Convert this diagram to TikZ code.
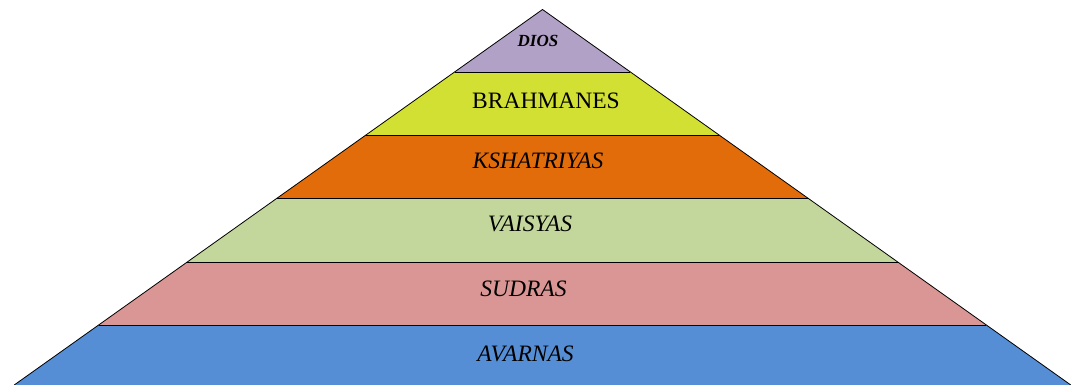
\documentclass[tikz,border=0pt]{standalone}
\usepackage{fontspec}
\setmainfont{Liberation Serif}
\definecolor{cDios}{HTML}{B2A1C7}
\definecolor{cBrah}{HTML}{D2E034}
\definecolor{cKsha}{HTML}{E36C0A}
\definecolor{cVais}{HTML}{C3D69B}
\definecolor{cSudr}{HTML}{D99694}
\definecolor{cAvar}{HTML}{558ED5}
\begin{document}
\begin{tikzpicture}[x=1pt,y=-1pt,
  layer/.style={draw=black,line width=0.8pt,line join=miter},
  lbl/.style={anchor=base,inner sep=0pt,font=\fontsize{23.5}{26}\selectfont\itshape},
  lblup/.style={anchor=base,inner sep=0pt,font=\fontsize{23.5}{26}\selectfont},
  lbltop/.style={anchor=base,inner sep=0pt,font=\fontsize{17}{19}\selectfont\bfseries\itshape}]
\useasboundingbox (0,0) rectangle (1071,385);
\coordinate (apex) at (542.5,9.5);
\coordinate (l1) at (454.6,72);   \coordinate (r1) at (630.4,72);
\coordinate (l2) at (365.9,135);  \coordinate (r2) at (719.1,135);
\coordinate (l3) at (276.6,198.5);\coordinate (r3) at (808.4,198.5);
\coordinate (l4) at (187.2,262);  \coordinate (r4) at (897.8,262);
\coordinate (l5) at (98.6,325);   \coordinate (r5) at (986.4,325);
\coordinate (l6) at (14.2,385);   \coordinate (r6) at (1070.8,385);
\fill[cAvar] (l5) -- (r5) -- (r6) -- (l6) -- cycle;
\fill[cSudr] (l4) -- (r4) -- (r5) -- (l5) -- cycle;
\fill[cVais] (l3) -- (r3) -- (r4) -- (l4) -- cycle;
\fill[cKsha] (l2) -- (r2) -- (r3) -- (l3) -- cycle;
\fill[cBrah] (l1) -- (r1) -- (r2) -- (l2) -- cycle;
\fill[cDios] (apex) -- (r1) -- (l1) -- cycle;
\draw[layer] (l6) -- (apex) -- (r6);
\draw[layer] (l1) -- (r1);
\draw[layer] (l2) -- (r2);
\draw[layer] (l3) -- (r3);
\draw[layer] (l4) -- (r4);
\draw[layer] (l5) -- (r5);
\node[lbltop] (dios) at (538,46.7) {DIOS};
\node[lblup] (brah) at (546,108.3) {BRAHMANES};
\node[lbl] (ksha) at (538,168.3) {KSHATRIYAS};
\node[lbl] (vais) at (530,231.7) {VAISYAS};
\node[lbl] (sudr) at (523.5,296.7) {SUDRAS};
\node[lbl] (avar) at (525.5,361) {AVARNAS};
\end{tikzpicture}
\end{document}
